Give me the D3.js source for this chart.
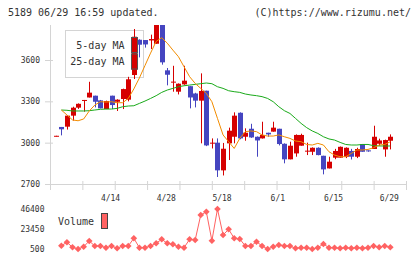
<!DOCTYPE html>
<html>
<head>
<meta charset="utf-8">
<script src="https://cdn.jsdelivr.net/npm/d3@7"></script>
<style>
  body { margin: 0; background: #fff; }
  svg { display: block; font-family: "DejaVu Sans Mono", monospace; }
</style>
</head>
<body>
<div id="chart"></div>
<script>
// Trading days (2020), one candle each
const dates = [
  "3/31", "4/1", "4/2", "4/3", "4/6", "4/7", "4/8", "4/9", "4/10", "4/13",
  "4/14", "4/15", "4/16", "4/17", "4/20", "4/21", "4/22", "4/23", "4/24", "4/27",
  "4/28", "4/30", "5/1", "5/7", "5/8", "5/11", "5/12", "5/13", "5/14", "5/15",
  "5/18", "5/19", "5/20", "5/21", "5/22", "5/25", "5/26", "5/27", "5/28", "5/29",
  "6/1", "6/2", "6/3", "6/4", "6/5", "6/8", "6/9", "6/10", "6/11", "6/12",
  "6/15", "6/16", "6/17", "6/18", "6/19", "6/22", "6/23", "6/24", "6/25", "6/26",
  "6/29"
];
const openPrices = [
  3045, 3114, 3116, 3196, 3254, 3306, 3328, 3341, 3307, 3244,
  3341, 3297, 3317, 3312, 3491, 3747, 3745, 3742, 3718, 3880,
  3525, 3437, 3370, 3423, 3410, 3357, 3305, 3377, 2995, 3000,
  2799, 2995, 3043, 3217, 3043, 3101, 3043, 3031, 3072, 3080,
  3101, 2992, 2879, 2922, 2978, 2938, 2934, 2963, 2905, 2813,
  2891, 2891, 2898, 2940, 2898, 2990, 2944, 2954, 2992, 2951,
  3014
];
const highPrices = [
  3050, 3114, 3200, 3261, 3285, 3310, 3442, 3341, 3310, 3305,
  3341, 3315, 3392, 3478, 3825, 3750, 3745, 3784, 3900, 3880,
  3542, 3558, 3430, 3558, 3410, 3362, 3503, 3377, 3031, 3031,
  2998, 3109, 3220, 3220, 3104, 3137, 3045, 3152, 3072, 3152,
  3101, 2995, 3007, 3060, 3065, 3000, 2966, 2966, 2905, 2898,
  2955, 2972, 2966, 2955, 2963, 2990, 2944, 3123, 3029, 3022,
  3060
];
const lowPrices = [
  3045, 3053, 3095, 3160, 3245, 3225, 3328, 3256, 3249, 3244,
  3244, 3230, 3244, 3300, 3462, 3619, 3690, 3680, 3718, 3566,
  3416, 3370, 3350, 3420, 3249, 3256, 2995, 2975, 2958, 2751,
  2762, 2874, 2995, 3025, 3014, 3035, 2898, 3030, 3043, 3080,
  2980, 2850, 2879, 2898, 2978, 2910, 2910, 2908, 2770, 2813,
  2880, 2891, 2888, 2878, 2888, 2934, 2934, 2954, 2978, 2898,
  2951
];
const closePrices = [
  3050, 3097, 3196, 3254, 3282, 3310, 3363, 3297, 3249, 3302,
  3273, 3312, 3389, 3460, 3769, 3711, 3713, 3752, 3880, 3583,
  3493, 3443, 3428, 3450, 3328, 3305, 3375, 2980, 3000, 2799,
  2956, 3087, 3196, 3031, 3072, 3038, 3016, 3056, 3060, 3109,
  2990, 2879, 2978, 3056, 3056, 2942, 2963, 2910, 2806, 2862,
  2940, 2970, 2963, 2898, 2954, 2934, 2937, 3043, 3016, 3019,
  3043
];
// Moving averages (no value drawn for the first day)
const ma5 = [
  null, 3237, 3201, 3165, 3159, 3172, 3230, 3273, 3297, 3295,
  3297, 3290, 3290, 3321, 3390, 3470, 3560, 3650, 3735, 3762,
  3722, 3672, 3624, 3551, 3479, 3430, 3394, 3358, 3297, 3176,
  3056, 3007, 2958, 3031, 3080, 3085, 3080, 3056, 3048, 3048,
  3056, 3043, 3031, 3012, 3007, 2987, 2983, 2995, 2983, 2934,
  2910, 2898, 2898, 2922, 2947, 2947, 2951, 2963, 2983, 2987,
  3007
];
const ma25 = [
  null, 3237, 3235, 3230, 3230, 3230, 3232, 3237, 3242, 3244,
  3244, 3249, 3261, 3266, 3268, 3285, 3302, 3321, 3341, 3365,
  3382, 3394, 3406, 3413, 3418, 3423, 3428, 3433, 3428, 3406,
  3394, 3377, 3370, 3365, 3353, 3346, 3341, 3334, 3321, 3297,
  3261, 3232, 3212, 3176, 3140, 3109, 3085, 3067, 3043, 3027,
  3019, 3002, 2987, 2983, 2983, 2987, 2987, 2978, 2976, 2976,
  2976
];
const volumes = [
  null, 4290, 8190, 2450, 500, 3140, 9680, 3940, 3940, 2000,
  3940, 1300, 3940, 3940, 12780, 2000, 2000, 3940, 7040, 11630,
  7040, 5890, 3140, 2000, 11630, 10830, 39500, 43300, 10000, 46400,
  16570, 23100, 12780, 11980, 3940, 3940, 8880, 3940, 500, 3140,
  5090, 3940, 3940, 1300, 2000, 2000, 500, 2000, 6240, 2000,
  2000, 1300, 2000, 1300, 2000, 1300, 2000, 3940, 2450, 3940,
  2450
];
const xLabels = ["4/14", "4/28", "5/18", "6/1", "6/15", "6/29"];
const yTicks = [2700, 3000, 3300, 3600];
const volTicks = [500, 23450, 46400];
const legendNames = ["5-day MA", "25-day MA"];
const headerLeft = "5189 06/29 16:59 updated.";
const headerRight = "(C)https://www.rizumu.net/";

const upColor = "#d60000", downColor = "#4545c0";
const ma5Color = "#f28c00", ma25Color = "#1aaa1a", volColor = "#ff6262";
const axisColor = "#d4d4d4", textColor = "#333";

const width = 420, height = 259;
const plot = { left: 50, right: 406, top: 25, bottom: 184 };

const svg = d3.select("#chart")
    .append("svg")
    .attr("width", width)
    .attr("height", height);

// Scales
const x = d3.scaleBand().domain(dates).range([53, 393.1]);
const cx = d => x(d) + x.bandwidth() / 2;
const y = d3.scaleLinear().domain([2700, 3600]).range([plot.bottom, 60]);
const yVol = d3.scaleLinear().domain([500, 46400]).range([249, 209]);
const grid = d3.scaleLinear().domain([0, 11]).range([plot.left, plot.right]);

// Header texts
svg.append("text")
    .attr("x", 8).attr("y", 16)
    .style("font-size", "10px").attr("fill", textColor)
    .text(headerLeft);
svg.append("text")
    .attr("x", 411).attr("y", 16)
    .attr("text-anchor", "end")
    .style("font-size", "10px").attr("fill", textColor)
    .text(headerRight);

// X axis (evenly spaced grid ticks)
const xAxis = svg.append("g")
    .attr("transform", `translate(0,${plot.bottom})`)
    .call(d3.axisBottom(grid).tickValues(d3.range(12)).tickSize(6).tickSizeOuter(0).tickFormat(""));
xAxis.select(".domain").attr("stroke", axisColor);
xAxis.selectAll(".tick line").attr("stroke", axisColor).attr("y1", -3);

// Date labels under the candles
svg.selectAll(".xlabel")
    .data(xLabels)
    .enter()
    .append("text")
        .attr("class", "xlabel")
        .attr("x", d => cx(d) - 1)
        .attr("y", 201)
        .attr("text-anchor", "middle")
        .style("font-size", "8px")
        .attr("fill", textColor)
        .text(d => d);

// Y axis
svg.append("line")
    .attr("x1", plot.left + 0.5).attr("x2", plot.left + 0.5)
    .attr("y1", plot.top).attr("y2", plot.bottom)
    .attr("stroke", axisColor);
const yAxis = svg.append("g")
    .attr("transform", `translate(${plot.left},0)`)
    .call(d3.axisLeft(y).tickValues(yTicks).tickSize(5).tickPadding(5).tickFormat(d3.format("d")));
yAxis.select(".domain").remove();
yAxis.selectAll(".tick line").attr("stroke", axisColor).attr("x1", 3);
yAxis.selectAll(".tick text")
    .style("font-size", "8px")
    .style("font-family", "DejaVu Sans Mono, monospace")
    .attr("fill", textColor);

// Legend box for moving averages
svg.append("rect")
    .attr("x", 65.5).attr("y", 30.5)
    .attr("width", 78).attr("height", 47)
    .attr("fill", "#fff")
    .attr("stroke", axisColor);
svg.selectAll(".legtext")
    .data(legendNames)
    .enter()
    .append("text")
        .attr("class", "legtext")
        .attr("x", 124.5)
        .attr("y", (d, i) => 48.5 + i * 16.5)
        .attr("text-anchor", "end")
        .style("font-size", "10px")
        .attr("fill", textColor)
        .text(d => d);
const swatches = svg.append("g");
swatches.selectAll("rect")
    .data([ma5Color, ma25Color])
    .enter()
    .append("rect")
        .attr("x", 131.5)
        .attr("y", (d, i) => 37.5 + i * 16.5)
        .attr("width", 6)
        .attr("height", 15)
        .attr("fill", d => d)
        .attr("stroke", "#555");

// Candles, clipped to the plot area
svg.append("clipPath").attr("id", "plotclip")
    .append("rect")
    .attr("x", plot.left).attr("y", plot.top)
    .attr("width", plot.right - plot.left).attr("height", plot.bottom - plot.top);
const chartSvg = svg.append("g").attr("clip-path", "url(#plotclip)");

const candles = dates.map((d, i) => ({
    date: d, open: openPrices[i], high: highPrices[i], low: lowPrices[i], close: closePrices[i]
}));
const bodyW = 5;

chartSvg.selectAll(".wick")
    .data(candles)
    .enter()
    .append("line")
        .attr("class", "wick")
        .attr("x1", d => Math.round(cx(d.date)) + 0.5)
        .attr("x2", d => Math.round(cx(d.date)) + 0.5)
        .attr("y1", d => y(d.high))
        .attr("y2", d => y(d.low))
        .attr("stroke", d => d.close >= d.open ? upColor : downColor);

chartSvg.selectAll(".body")
    .data(candles)
    .enter()
    .append("rect")
        .attr("class", "body")
        .attr("x", d => Math.round(cx(d.date)) - 2)
        .attr("y", d => y(Math.max(d.open, d.close)))
        .attr("width", bodyW)
        .attr("height", d => Math.max(1, Math.abs(y(d.open) - y(d.close))))
        .attr("fill", d => d.close >= d.open ? upColor : downColor);

// Swatch outlines stay above the candle that runs through them
swatches.clone(true).raise().selectAll("rect").attr("fill", "none");

// Moving average lines
const maLine = series => d3.line()
    .defined((d, i) => series[i] != null)
    .x((d, i) => cx(dates[i]))
    .y((d, i) => y(series[i]));
chartSvg.append("path")
    .datum(ma25)
    .attr("fill", "none")
    .attr("stroke", ma25Color)
    .attr("stroke-width", 1)
    .attr("d", maLine(ma25));
chartSvg.append("path")
    .datum(ma5)
    .attr("fill", "none")
    .attr("stroke", ma5Color)
    .attr("stroke-width", 1)
    .attr("d", maLine(ma5));

// Volume panel
svg.selectAll(".vtick")
    .data(volTicks)
    .enter()
    .append("text")
        .attr("class", "vtick")
        .attr("x", 44.5)
        .attr("y", d => yVol(d))
        .attr("dy", "0.35em")
        .attr("text-anchor", "end")
        .style("font-size", "8px")
        .attr("fill", textColor)
        .text(d => d);

svg.append("text")
    .attr("x", 58).attr("y", 225)
    .style("font-size", "10px").attr("fill", textColor)
    .text("Volume");
svg.append("rect")
    .attr("x", 101.5).attr("y", 213.5)
    .attr("width", 6).attr("height", 15)
    .attr("fill", volColor)
    .attr("stroke", "#444");

const volData = dates.map((d, i) => ({ date: d, value: volumes[i] })).filter(d => d.value != null);
svg.append("path")
    .datum(volData)
    .attr("fill", "none")
    .attr("stroke", volColor)
    .attr("stroke-width", 1)
    .attr("d", d3.line().x(d => cx(d.date)).y(d => yVol(d.value)));

svg.selectAll(".vmark")
    .data(volData)
    .enter()
    .append("path")
        .attr("class", "vmark")
        .attr("transform", d => `translate(${cx(d.date)},${yVol(d.value)}) rotate(45)`)
        .attr("d", d3.symbol(d3.symbolSquare, 22))
        .attr("fill", volColor);
</script>
</body>
</html>
